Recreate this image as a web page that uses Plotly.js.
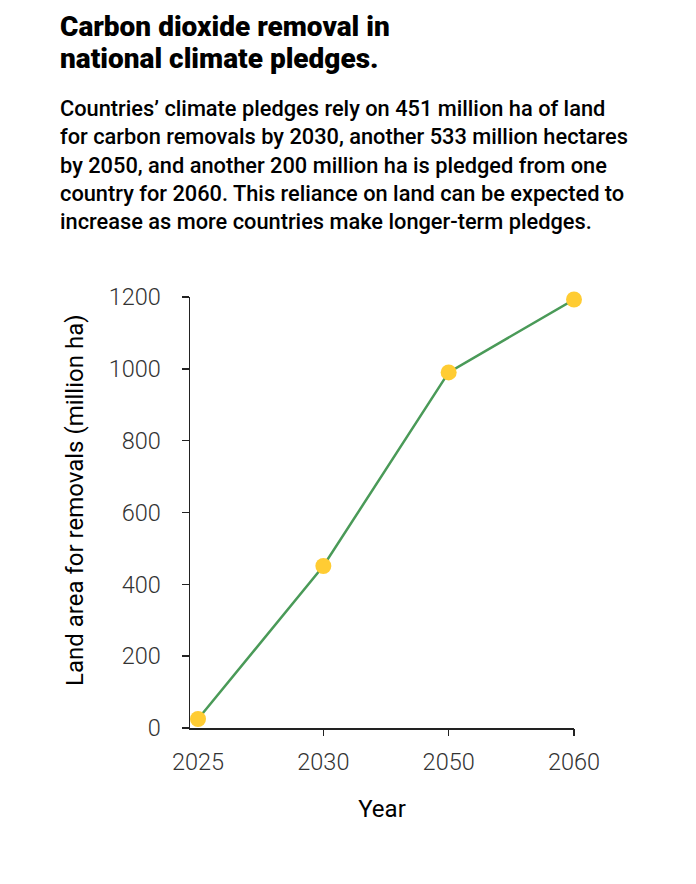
<!DOCTYPE html>
<html>
<head>
<meta charset="utf-8">
<script src="https://cdn.plot.ly/plotly-3.0.1.min.js"></script>
<style>html,body{margin:0;padding:0;background:#fff;}#chart{width:696px;height:884px;}</style>
</head>
<body>
<div id="chart"></div>
<script>
const years = ["2025", "2030", "2050", "2060"];
const landArea = [25, 451, 990, 1193];
const yTicks = [0, 200, 400, 600, 800, 1000, 1200];
const tickedYears = ["2030", "2050", "2060"];
const titleLines = ["Carbon dioxide removal in", "national climate pledges."];
const subtitleText = "Countries’ climate pledges rely on 451 million ha of land<br>for carbon removals by 2030, another 533 million hectares<br>by 2050, and another 200 million ha is pledged from one<br>country for 2060. This reliance on land can be expected to<br>increase as more countries make longer-term pledges.";
const yTitle = "Land area for removals (million ha)";
const xTitle = "Year";

const plotTop = 297, plotBottom = 728, plotLeft = 190, plotRight = 574;
const pxY = py => (plotBottom - py) / (plotBottom - plotTop);
const pxX = px => (px - plotLeft) / (plotRight - plotLeft);

const trace = {
  type: "scatter",
  mode: "lines+markers",
  x: years,
  y: landArea,
  line: {color: "#4a9a58", width: 2.5},
  marker: {color: "#ffcc33", size: 16},
  cliponaxis: false,
  hoverinfo: "x+y"
};
const tickTrace = {
  type: "scatter", mode: "markers", x: years, y: landArea,
  xaxis: "x2", yaxis: "y", marker: {opacity: 0}, hoverinfo: "skip", showlegend: false
};

const titleFont = {family: "Roboto, sans-serif", size: 28, weight: 900, color: "#000"};
const layout = {
  width: 696, height: 884,
  margin: {l: 190, r: 122, t: 297, b: 156},
  paper_bgcolor: "#fff", plot_bgcolor: "#fff",
  showlegend: false,
  font: {family: "Roboto, sans-serif", color: "#333"},
  annotations: [
    {text: titleLines[0], xref: "paper", yref: "paper", x: pxX(58), xanchor: "left",
     y: pxY(26), yanchor: "middle", showarrow: false, font: titleFont},
    {text: titleLines[1], xref: "paper", yref: "paper", x: pxX(58), xanchor: "left",
     y: pxY(58), yanchor: "middle", showarrow: false, font: titleFont},
    {text: subtitleText, xref: "paper", yref: "paper", x: pxX(58), xanchor: "left",
     y: pxY(165), yanchor: "middle", align: "left", showarrow: false,
     font: {family: "Roboto, sans-serif", size: 21.8, weight: 500, color: "#000"}},
    {text: yTitle, xref: "paper", yref: "paper", x: pxX(75), xanchor: "center",
     y: pxY(500), yanchor: "middle", textangle: -90, showarrow: false,
     font: {family: "Roboto, sans-serif", size: 24, color: "#000"}}
  ],
  xaxis: {
    type: "category",
    range: [-0.064, 3],
    showline: true, linecolor: "#222", linewidth: 1.5,
    ticks: "", showgrid: false, zeroline: false,
    tickfont: {size: 23.5, color: "#333", weight: 300},
    ticklabelstandoff: 12,
    title: {text: xTitle, font: {size: 24, color: "#000"}, standoff: 25}
  },
  xaxis2: {
    type: "category",
    overlaying: "x", anchor: "y", side: "bottom",
    range: [-0.064, 3],
    showline: false, showgrid: false, zeroline: false,
    ticks: "outside", ticklen: 7, tickcolor: "#222", tickwidth: 1.5,
    tickvals: tickedYears, showticklabels: false
  },
  yaxis: {
    range: [0, 1200],
    tickvals: yTicks,
    showline: true, linecolor: "#222", linewidth: 1.5,
    ticks: "outside", ticklen: 7, tickcolor: "#222", tickwidth: 1.5,
    showgrid: false, zeroline: false,
    tickfont: {size: 23.5, color: "#333", weight: 300},
    ticklabelstandoff: 16
  }
};

Plotly.newPlot("chart", [trace, tickTrace], layout, {displayModeBar: false, staticPlot: true});
</script>
</body>
</html>
